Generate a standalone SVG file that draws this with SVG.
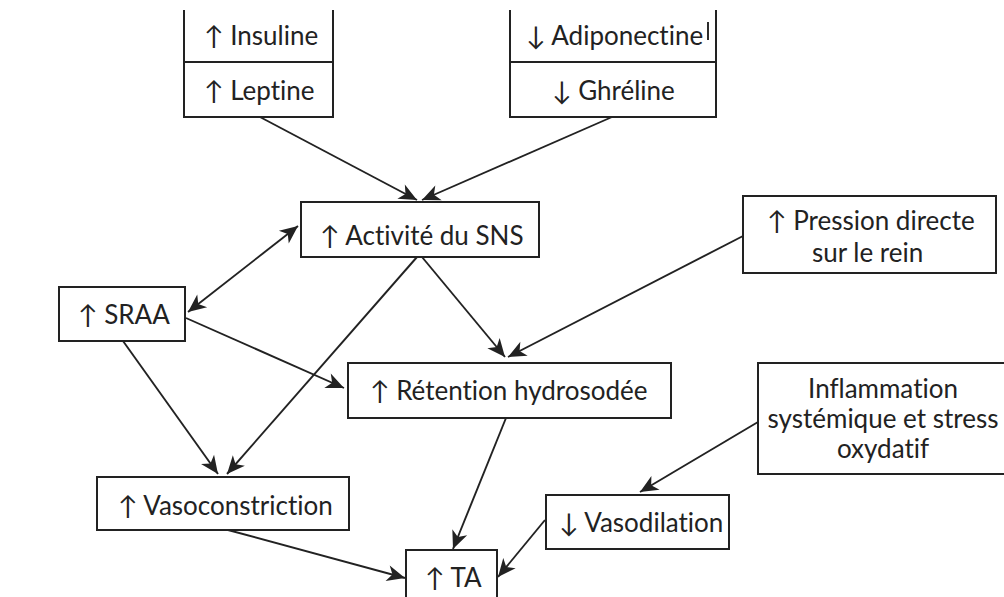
<svg xmlns="http://www.w3.org/2000/svg" width="1004" height="597" viewBox="0 0 1004 597">
<defs>
<style>
.box{fill:#fff;stroke:#222;stroke-width:2}
.ln{fill:none;stroke:#222;stroke-width:1.9}
.t{font-family:Lato,"Open Sans",sans-serif;font-size:26px;fill:#222;font-variant-ligatures:none}
.c{text-anchor:middle}
</style>
<marker id="ah" viewBox="-1 -9 20 18" markerWidth="20" markerHeight="18" refX="18" refY="0" orient="auto-start-reverse" markerUnits="userSpaceOnUse">
<path d="M0,-8 L18,0 L0,8 L5,0 z" fill="#222"/>
</marker>
</defs>
<rect width="1004" height="597" fill="#fff"/>

<g id="connectors" class="ln" marker-end="url(#ah)">
<line x1="260" y1="117" x2="417" y2="200"/>
<line x1="612" y1="117" x2="422" y2="200"/>
<line x1="298" y1="226" x2="188" y2="312" marker-start="url(#ah)"/>
<line x1="417" y1="257" x2="227" y2="474"/>
<line x1="422" y1="257" x2="505" y2="357"/>
<line x1="743" y1="236" x2="508" y2="357"/>
<line x1="186" y1="318" x2="344" y2="388"/>
<line x1="123" y1="341" x2="218" y2="474"/>
<line x1="506" y1="418" x2="453" y2="549"/>
<line x1="228" y1="530" x2="405" y2="578"/>
<line x1="758" y1="422" x2="640" y2="492"/>
<line x1="545" y1="520" x2="498" y2="577"/>
</g>

<g id="insuline-leptine">
<path class="box" d="M184,10 V117 H333 V10"/>
<line class="ln" x1="184" y1="62" x2="333" y2="62" stroke-width="2"/>
<text class="t" x="204" y="45">↑ Insuline</text>
<text class="t" x="204" y="100">↑ Leptine</text>
</g>

<g id="adiponectine-ghreline">
<path class="box" d="M510,10 V117 H716 V10"/>
<line class="ln" x1="510" y1="62" x2="716" y2="62" stroke-width="2"/>
<line class="ln" x1="708" y1="22" x2="708" y2="40" stroke-width="1"/>
<text class="t" x="526" y="45">↓ Adiponectine</text>
<text class="t" x="552" y="100">↓ Ghréline</text>
</g>

<g id="sns">
<rect class="box" x="301" y="202" width="238" height="55"/>
<text class="t" x="320" y="245">↑ Activité du SNS</text>
</g>

<g id="pression">
<rect class="box" x="743" y="196" width="253" height="77"/>
<text class="t" x="767" y="230">↑ Pression directe</text>
<text class="t" x="812" y="262">sur le rein</text>
</g>

<g id="sraa">
<rect class="box" x="59" y="287" width="126" height="54"/>
<text class="t" x="78" y="324">↑ SRAA</text>
</g>

<g id="retention">
<rect class="box" x="348" y="363" width="323" height="55"/>
<text class="t" x="370" y="400">↑ Rétention hydrosodée</text>
</g>

<g id="inflammation">
<rect class="box" x="758" y="363" width="250" height="111"/>
<text class="t c" x="883" y="398">Inflammation</text>
<text class="t c" x="883" y="428">systémique et stress</text>
<text class="t c" x="883" y="458">oxydatif</text>
</g>

<g id="vasoconstriction">
<rect class="box" x="97" y="477" width="252" height="53"/>
<text class="t" x="118" y="515">↑ Vasoconstriction</text>
</g>

<g id="vasodilation">
<rect class="box" x="546" y="495" width="183" height="54"/>
<text class="t" x="559" y="532">↓ Vasodilation</text>
</g>

<g id="ta">
<path class="box" d="M406,600 V550 H497 V600"/>
<text class="t" x="425" y="587">↑ TA</text>
</g>
</svg>
